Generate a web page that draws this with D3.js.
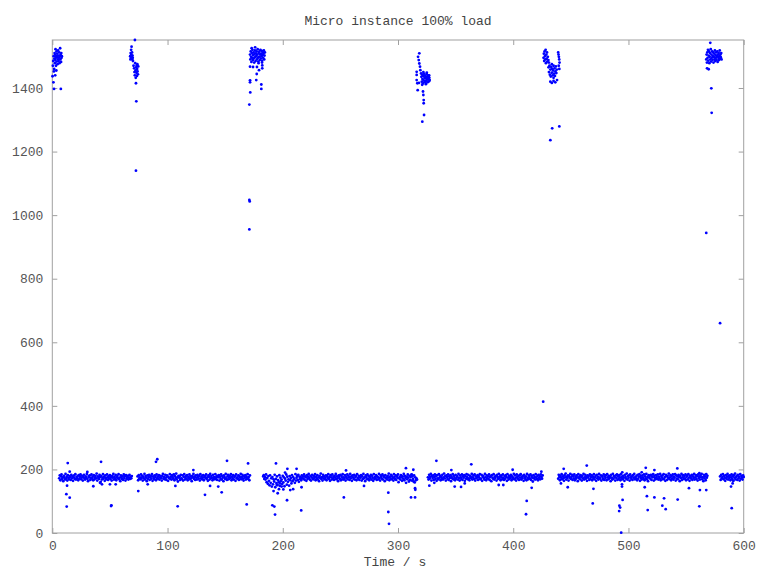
<!DOCTYPE html>
<html>
<head>
<meta charset="utf-8">
<script src="https://cdn.jsdelivr.net/npm/d3@7"></script>
<style>
  body { margin: 0; background: #fff; }
  text { font-family: "Liberation Mono", "DejaVu Sans Mono", monospace; }
</style>
</head>
<body>
<div id="chart"></div>
<script>
var
    width = 768,
    height = 576;

// steady load band: one reading every half second, start times per stretch
var bandStep = 0.5;
var bandStart = [6, 74, 183, 326, 439, 579.5];

var band1 = [172,181,166,178,184,170,175,163,180,174,168,186,171,177,165,182,173,169,179,176,
  167,183,172,178,164,175,181,170,185,168,176,173,179,166,182,171,177,184,169,174,
  180,165,176,183,172,168,178,174,186,170,163,179,175,181,167,173,184,171,177,166,
  182,169,175,180,172,187,165,178,173,170,183,176,161,179,168,174,185,171,177,164,
  181,173,169,184,175,167,179,172,182,170,176,165,180,174,186,168,177,171,183,166,
  175,179,172,185,169,174,163,181,176,170,178,167,184,173,179,165,182,171,176,180,
  168,174,183,170,177,172,179];

var band2 = [178,166,182,171,175,169,184,173,180,165,177,172,186,168,179,174,163,181,170,176,
  183,167,175,179,171,185,164,178,173,169,181,176,166,184,172,177,170,182,168,175,
  180,173,165,179,186,171,176,169,183,174,167,181,178,164,175,172,185,170,177,168,
  182,176,171,184,166,179,173,187,169,175,162,180,174,178,167,183,172,170,181,165,
  177,185,168,174,179,171,182,166,176,173,184,169,178,172,163,180,175,186,170,177,
  167,181,174,168,183,176,171,179,165,185,172,178,169,174,182,166,176,180,173,184,
  170,175,164,181,177,168,186,172,179,174,166,183,171,176,169,185,173,178,167,180,
  175,182,165,177,171,184,168,179,174,163,181,176,170,186,172,167,178,183,169,175,
  180,173,185,166,177,171,182,168,176,179,164,184,172,175,170,181,167,178,174,186,
  169,176,183,171,165,179,174,182,168,177,173,185,170,176,166,181];

var band3 = [178,182,170,176,168,184,160,173,155,179,164,150,181,158,172,146,176,153,169,162,
  183,144,170,157,178,151,166,160,182,148,174,163,168,154,180,159,175,147,171,165,
  184,152,177,161,169,149,179,166,173,156,182,163,176,168,171,158,185,165,174,179,
  167,183,161,177,170,175,166,181,172,178,
  171,184,167,178,175,164,182,170,177,186,173,168,180,165,176,183,172,169,179,174,
  185,166,177,171,182,168,175,163,180,173,187,170,176,165,183,172,178,169,174,181,
  166,179,173,185,170,176,164,182,175,168,184,171,177,167,180,174,186,169,178,172,
  163,181,176,170,183,166,179,174,185,168,175,171,182,165,177,173,184,169,180,176,
  167,186,172,178,164,181,175,170,183,168,176,179,166,185,173,171,180,167,177,174,
  182,165,178,170,186,172,175,163,181,176,169,184,171,179,166,177,173,183,168,180,
  174,164,185,170,176,172,182,167,178,175,169,186,173,165,181,177,171,184,168,179,
  176,163,182,172,175,168,180,174,187,166,177,171,183,169,178,173,165,185,176,170,
  181,167,179,174,184,160,172,176,168,182,175,164,178,171,186,166,180,173,158,177,
  169,184,174,162,180,167,176,183,165,178,170,162,181,159,175,166,172,168];

var band4 = [175,168,183,171,177,186,165,179,173,181,167,176,184,170,178,164,182,172,169,185,
  174,180,166,177,171,183,168,175,187,172,179,165,181,176,170,184,167,178,173,182,
  163,177,172,185,169,180,174,166,183,171,176,179,168,186,173,165,181,175,170,184,
  167,178,174,182,164,179,171,185,176,169,183,172,166,180,177,173,186,168,175,181,
  170,184,165,178,172,176,182,167,179,174,185,169,171,183,164,177,180,173,168,186,
  175,166,181,172,178,170,184,167,176,179,163,182,174,171,185,168,177,173,180,165,
  183,176,170,186,172,178,166,181,175,169,184,173,167,179,171,182,176,164,185,174,
  168,180,177,172,183,166,178,175,170,186,169,181,173,165,184,176,171,179,167,182,
  174,185,168,177,172,180,164,183,175,170,178,166,186,173,169,181,176,171,184,167,
  179,174,162,182,172,177,168,185,175,170,180,166,183,173,178,169,184,176,171,181];

var band5 = [171,183,176,166,180,174,185,169,178,172,164,182,175,187,168,177,173,181,165,179,
  174,186,170,176,183,167,179,172,184,166,177,171,181,175,163,185,173,178,169,182,
  176,165,180,172,186,168,175,183,171,177,164,181,174,179,167,184,170,176,182,166,
  178,173,185,169,175,180,164,183,172,177,168,186,174,171,181,165,179,176,170,184,
  167,178,173,182,166,185,175,169,180,172,177,163,183,174,168,186,171,179,176,165,
  181,173,184,167,178,170,182,175,166,185,172,177,169,180,174,164,183,176,171,187,
  168,179,173,181,165,184,175,170,178,167,182,174,186,169,176,172,180,166,183,171,
  177,185,164,179,173,168,181,175,170,184,166,178,172,186,169,176,163,182,174,180,
  171,183,167,178,175,185,165,180,173,169,182,176,170,184,168,177,172,186,166,179,
  174,181,169,185,171,176,164,183,178,167,180,173,187,170,175,182,166,179,172,184,
  168,177,174,185,165,181,171,178,169,183,176,163,180,173,186,167,175,182,170,179,
  172,184,166,177,181,169,185,174,164,180,176,171,183,167,178,173,186,168,175,182,
  170,179,165,184,173,177,168,181,175,186,169,176,163,183,172,178,166,185,174,180];

var band6 = [178,167,183,172,176,185,169,180,174,164,182,171,177,186,168,179,173,181,166,175,
  184,170,178,165,182,174,187,169,176,180,167,183,172,177,165,185,171,179,174,168,
  181,176];

// [time, value] readings of the high bursts
var burstA = [[0.2,1437],[0.5,1470],[0.8,1485],[1,1418],[1.2,1500],[1.5,1397],[1.6,1460],[1.8,1492],
  [2,1510],[2.2,1478],[2.4,1505],[2.6,1488],[2.8,1522],[3,1495],[3.2,1470],[3.4,1500],[3.6,1515],
  [3.8,1483],[4,1497],[4.3,1508],[4.5,1475],[4.8,1490],[5,1518],[5.2,1502],[5.5,1485],[5.8,1495],
  [6,1512],[6.2,1478],[6.5,1500],[6.8,1525],[7,1490],[7.2,1505],[7.4,1397],[7.6,1482],[7.8,1510],
  [8,1495],[8.3,1500],[3.5,1455],[2.5,1440],[1.4,1452]];

var burstB = [[67.6,1500],[67.8,1490],[68,1510],[68.2,1495],[68.4,1520],[68.6,1505],[68.8,1530],
  [69,1498],[69.2,1512],[69.4,1490],[69.6,1502],[69.8,1495],[70,1485],[71.7,1551],[70.5,1470],
  [71,1462],[71.3,1450],[71.6,1440],[72,1478],[72.2,1455],[72.4,1432],[72.6,1415],[72.8,1465],
  [73,1448],[73.2,1470],[73.4,1438],[73.6,1460],[73.8,1475],[74,1452],[74.3,1443],[74.6,1468],
  [72.9,1358],[72.6,1140]];

var burstC = [[171.6,1505],[171.9,1490],[172.2,1515],[172.5,1498],[172.8,1482],[173.1,1510],
  [173.4,1495],[173.7,1520],[174,1488],[174.3,1503],[174.6,1512],[174.9,1493],[175.2,1480],
  [175.5,1507],[175.8,1518],[176.1,1497],[176.4,1485],[176.7,1509],[177,1500],[177.3,1515],
  [177.6,1490],[177.9,1505],[178.2,1522],[178.5,1495],[178.8,1483],[179.1,1510],[179.4,1498],
  [179.7,1515],[180,1488],[180.3,1505],[180.6,1520],[180.9,1493],[181.2,1508],[181.5,1500],
  [181.8,1517],[182.1,1486],[182.4,1503],[182.7,1512],[183,1495],[183.3,1508],[183.6,1518],
  [183.9,1490],[184.2,1502],[184.5,1512],[173,1525],[176,1528],[179,1478],[182,1480],
  [171.6,1467],[174.2,1466],[177.6,1466],[182.2,1471],[179.4,1456],[182.2,1462],[177.4,1444],
  [171.6,1424],[171.6,1418],[177,1425],[181.4,1411],[181.4,1397],[171.8,1386],[171,1348],
  [171,1048],[171.3,1043],[171,955]];

var burstD = [[318.5,1509],[317.4,1498],[318,1488],[318.5,1477],[319.1,1467],[319.4,1456],
  [320,1446],[316.2,1451],[316.2,1441],[316.2,1425],[316.8,1415],[318.2,1416],
  [320.3,1435],[320.6,1420],[320.9,1442],[321.2,1428],[321.5,1414],[321.8,1438],[322.1,1425],
  [322.4,1445],[322.7,1418],[323,1432],[323.3,1440],[323.6,1422],[323.9,1436],[324.2,1412],
  [324.5,1430],[324.8,1444],[325.1,1426],[325.4,1434],[325.7,1418],[326,1440],[326.3,1428],
  [326.6,1436],[326.9,1421],[327.2,1432],[327.5,1425],[322,1450],[325,1448],[324,1420],
  [327,1440],[321,1410],[317.1,1393],[321.7,1389],[322,1378],[322.3,1362],[322.3,1352],
  [322.6,1315],[321.1,1294]];

var burstE = [[426.3,1495],[426.6,1508],[426.9,1485],[427.2,1515],[427.5,1500],[427.8,1490],
  [428.1,1520],[428.4,1478],[428.7,1505],[429,1492],[429.3,1512],[429.6,1483],[430,1498],
  [430.5,1488],[431,1480],[430.6,1465],[431,1450],[431.4,1470],[431.8,1442],[432.2,1458],
  [432.6,1436],[433,1466],[433.4,1448],[433.8,1460],[434.2,1440],[434.6,1455],[435,1470],
  [435.4,1445],[435.8,1462],[436.2,1438],[436.6,1452],[437,1468],[437.4,1447],[437.8,1458],
  [433.5,1475],[435,1432],[432.2,1420],[433.5,1416],[435,1422],[436.5,1418],[438,1425],
  [439,1512],[439.3,1505],[439.6,1498],[439.9,1490],[440.2,1480],[439.5,1470],[440,1460],
  [433.8,1273],[440,1279],[432.2,1236],[426,413]];

var burstF = [[567.5,1490],[567.8,1505],[568.1,1480],[568.4,1512],[568.7,1495],[569,1520],
  [569.3,1486],[569.6,1502],[569.9,1515],[570.2,1478],[570.5,1498],[570.8,1510],[571.1,1490],
  [571.4,1522],[571.7,1483],[572,1505],[572.3,1495],[572.6,1515],[572.9,1488],[573.2,1500],
  [573.5,1512],[573.8,1480],[574.1,1497],[574.4,1508],[574.7,1490],[575,1518],[575.3,1485],
  [575.6,1503],[575.9,1495],[576.2,1512],[576.5,1488],[576.8,1500],[577.1,1515],[577.4,1482],
  [577.7,1505],[578,1495],[578.3,1510],[578.6,1488],[578.9,1500],[579.2,1518],[579.5,1492],
  [579.8,1505],[580.1,1497],[580.5,1510],[580.8,1490],[569.6,1459],[568.2,1462],[571,1542],
  [571.9,1399],[572.2,1322],[567.5,944],[579.5,660]];

// stray readings around the steady band
var strays = [[12.5,83],[12.2,122],[15.1,111],[13.4,220],[15.1,193],[12.8,149],[30.4,192],
  [35.6,147],[42.3,224],[41.4,158],[43.1,153],[50,153],[51,85],[51.3,87],[55,153],
  [74.6,132],[90,224],[91.1,232],[82.8,153],[106.8,148],[108.8,84],[122.4,198],[132.5,120],
  [136.9,148],[147,128],[151.6,227],[144,146],[168.7,90],[169.9,219],
  [194.1,219],[204,202],[212,202],[203.7,103],[191,87],[192.7,83],[193.3,58],[216,71],
  [192,132],[195.6,125],[196.7,138],[199,146],[200.5,137],[206.5,135],[209,138],[216.3,144],
  [202,190],[254.9,197],[253,112],[194.8,151],[197.6,156],
  [291.6,127],[291.6,66],[292.2,29],[306.9,204],[313.3,199],[311.3,112],[314.8,112],
  [314.8,141],[315,136],[311.9,184],[327.2,149],[333.3,227],[346.3,198],[349.2,146],
  [354.7,145],[357.9,156],[363.6,216],[387.4,151],[391.4,151],[399.5,199],[411.7,101],
  [411.1,59],[416,142],[331.5,158],[270.5,148],[424.4,193],
  [443.8,202],[441.4,156],[447.3,144],[463.8,212],[469.6,139],[469,93],[491.9,69],[492.1,86],
  [492.8,80],[494.6,191],[494.9,104],[493.7,1],[494.4,146],[494.4,153],[511.5,191],[515,205],
  [516,116],[516.7,72],[514.1,144],[522.5,198],[522.5,112],[530.9,109],[529.4,86],[532.3,75],
  [542.4,203],[542.7,105],[552.5,141],[561.5,84],[561.5,188],[562,135],[567.5,135],
  [589.6,78],[589,146],[590.4,156],[591,164]];

var xTicks = [0, 100, 200, 300, 400, 500, 600];
var yTicks = [0, 200, 400, 600, 800, 1000, 1200, 1400];

var margin = {top: 40, right: 24.3, bottom: 43, left: 52.3};

var svg = d3.select("#chart")
        .append("svg")
        .attr("width", width)
        .attr("height", height);

var x = d3.scaleLinear().domain([0, 600]).range([margin.left, width - margin.right]);
var y = d3.scaleLinear().domain([0, 1551]).range([height - margin.bottom, margin.top]);

// put the band stretches together as [time, value]
var bands = [band1, band2, band3, band4, band5, band6];
var points = [];
bands.forEach(function(b, i) {
  b.forEach(function(v, j) { points.push([bandStart[i] + j * bandStep, v]); });
});
points = points.concat(strays, burstA, burstB, burstC, burstD, burstE, burstF);

var grey = "#a0a0a0";
var labelColor = "#555";

function styleAxis(g, labels) {
  g.select(".domain").remove();
  g.selectAll(".tick line").attr("stroke", grey);
  g.selectAll("text")
      .attr("fill", labelColor)
      .attr("font-size", "13px")
      .attr("font-family", "Liberation Mono, monospace");
  if (!labels) g.selectAll("text").remove();
}

svg.append("g")
    .attr("transform", "translate(0," + y(0) + ")")
    .call(d3.axisBottom(x).tickValues(xTicks).tickFormat(d3.format("d")).tickSize(-5).tickPadding(8))
    .call(styleAxis, true);

svg.append("g")
    .attr("transform", "translate(0," + y.range()[1] + ")")
    .call(d3.axisTop(x).tickValues(xTicks).tickSize(-5))
    .call(styleAxis, false);

svg.append("g")
    .attr("transform", "translate(" + x(0) + ",0)")
    .call(d3.axisLeft(y).tickValues(yTicks).tickFormat(d3.format("d")).tickSize(-5).tickPadding(9))
    .call(styleAxis, true);

svg.append("g")
    .attr("transform", "translate(" + x(600) + ",0)")
    .call(d3.axisRight(y).tickValues(yTicks).tickSize(-5))
    .call(styleAxis, false);

svg.append("rect")
    .attr("x", x(0))
    .attr("y", y.range()[1])
    .attr("width", x(600) - x(0))
    .attr("height", y(0) - y.range()[1])
    .attr("fill", "none")
    .attr("stroke", grey)
    .attr("stroke-width", 1);

svg.append("g")
    .selectAll("circle")
    .data(points)
  .enter().append("circle")
    .attr("cx", function(d) { return x(d[0]); })
    .attr("cy", function(d) { return y(d[1]); })
    .attr("r", 1.4)
    .attr("fill", "#0000ff");

svg.append("text")
    .attr("x", (x(0) + x(600)) / 2)
    .attr("y", 25)
    .attr("text-anchor", "middle")
    .attr("font-size", "13px")
    .attr("fill", "#444")
    .text("Micro instance 100% load");

svg.append("text")
    .attr("x", (x(0) + x(600)) / 2 - 3)
    .attr("y", 566)
    .attr("text-anchor", "middle")
    .attr("font-size", "13px")
    .attr("fill", "#444")
    .text("Time / s");
</script>
</body>
</html>
